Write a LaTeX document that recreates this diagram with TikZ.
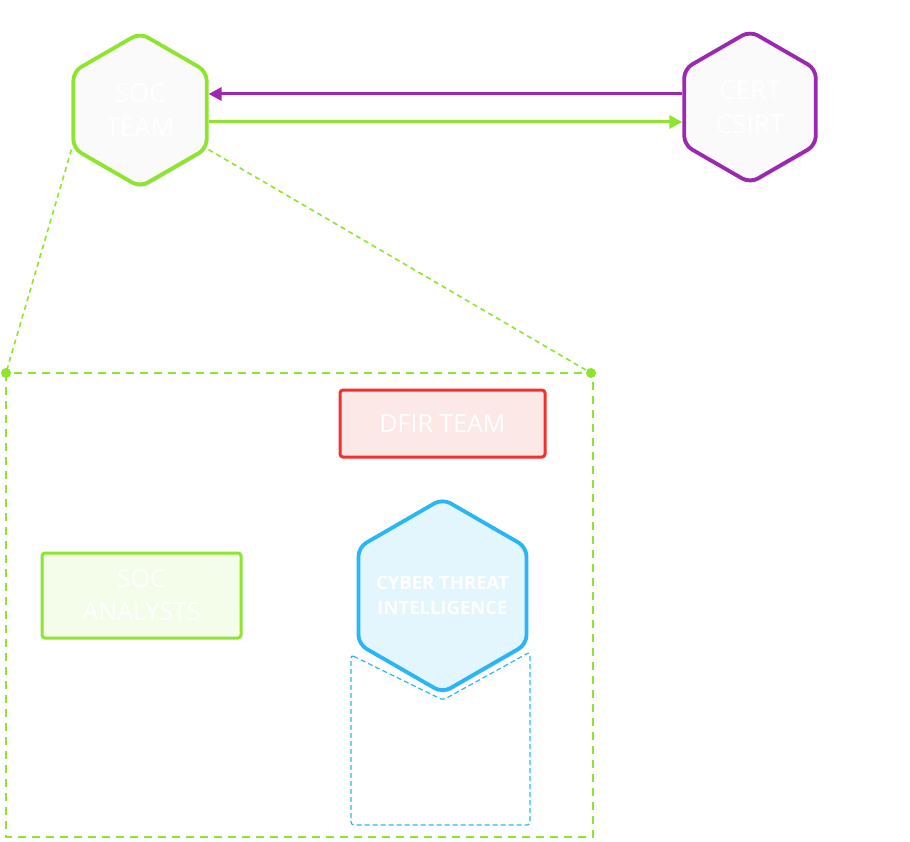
\documentclass[tikz,border=0pt]{standalone}
\usepackage{fontspec}
\setmainfont{Open Sans}
\usepackage{xcolor}
\usepackage{tikz}
\usetikzlibrary{shapes.geometric,positioning,arrows.meta,shadows}
\definecolor{socgreen}{HTML}{8EE52E}
\definecolor{certpurple}{HTML}{9C27B0}
\definecolor{dfirred}{HTML}{F52F2F}
\definecolor{dfirfill}{HTML}{FDE8E8}
\definecolor{analystfill}{HTML}{F4FCEA}
\definecolor{ctiblue}{HTML}{29B6F6}
\definecolor{ctifill}{HTML}{E3F6FD}
\definecolor{hexfill}{HTML}{FAFAFA}

\begin{document}
\begin{tikzpicture}[x=1pt,y=-1pt,>={Triangle[length=13pt,width=13pt]},
	hexa/.style={regular polygon,regular polygon sides=6,shape border rotate=30,rounded corners=9pt,line width=3.8pt,fill=hexfill,text=white,inner sep=0pt,align=center,font=\fontsize{26}{34}\selectfont,drop shadow={opacity=0.25,shadow xshift=1pt,shadow yshift=-2.5pt}},
	teambox/.style={rectangle,rounded corners=3pt,line width=3pt,text=white,align=center,font=\fontsize{25}{33}\selectfont},
	link/.style={->,line width=3pt},
	zoomline/.style={socgreen,line width=1.6pt,dash pattern=on 5pt off 4pt}]
			\useasboundingbox (0,0) rectangle (910,842);
			\node[hexa,draw=socgreen,minimum size=154pt] (soc) at (140,110) {SOC\\TEAM};
			\node[hexa,draw=certpurple,minimum size=152pt] (cert) at (750,107) {CERT\\CSIRT};
			\node[teambox,draw=dfirred,fill=dfirfill,minimum width=205pt,minimum height=67pt] (dfir) at (442.5,423.5) {DFIR TEAM};
			\node[teambox,draw=socgreen,fill=analystfill,minimum width=199pt,minimum height=85pt] (analysts) at (141.5,595.5) {SOC\\ANALYSTS};
			\draw[ctiblue,line width=1.2pt,dash pattern=on 5pt off 3pt,rounded corners=3pt] (351,655) -- (443,700) -- (530,652) -- (530,825) -- (351,825) -- cycle;
			\node[hexa,draw=ctiblue,fill=ctifill,minimum size=194pt,label={[text=white,align=center,font=\bfseries\fontsize{18.5}{25}\selectfont]center:CYBER THREAT\\INTELLIGENCE}] (cti) [below=38pt of dfir] {};

			\coordinate (zl) at (6,373);
			\coordinate (zr) at (591,373);
			\draw[zoomline] (soc.210) -- (zl);
			\draw[zoomline] (soc.330) -- (zr);
			\fill[socgreen] (zl) circle (5pt) (zr) circle (5pt);
			\draw[socgreen,line width=2.2pt,dash pattern=on 8pt off 6pt] (zl) rectangle (593,837);

			\draw[link,certpurple] ([yshift=13pt]cert.west) -- ([yshift=13pt]cert.west -| soc.east);
			\draw[link,socgreen] ([yshift=-12pt]soc.east) -- ([yshift=-12pt]soc.east -| cert.west);
\end{tikzpicture}
\end{document}
